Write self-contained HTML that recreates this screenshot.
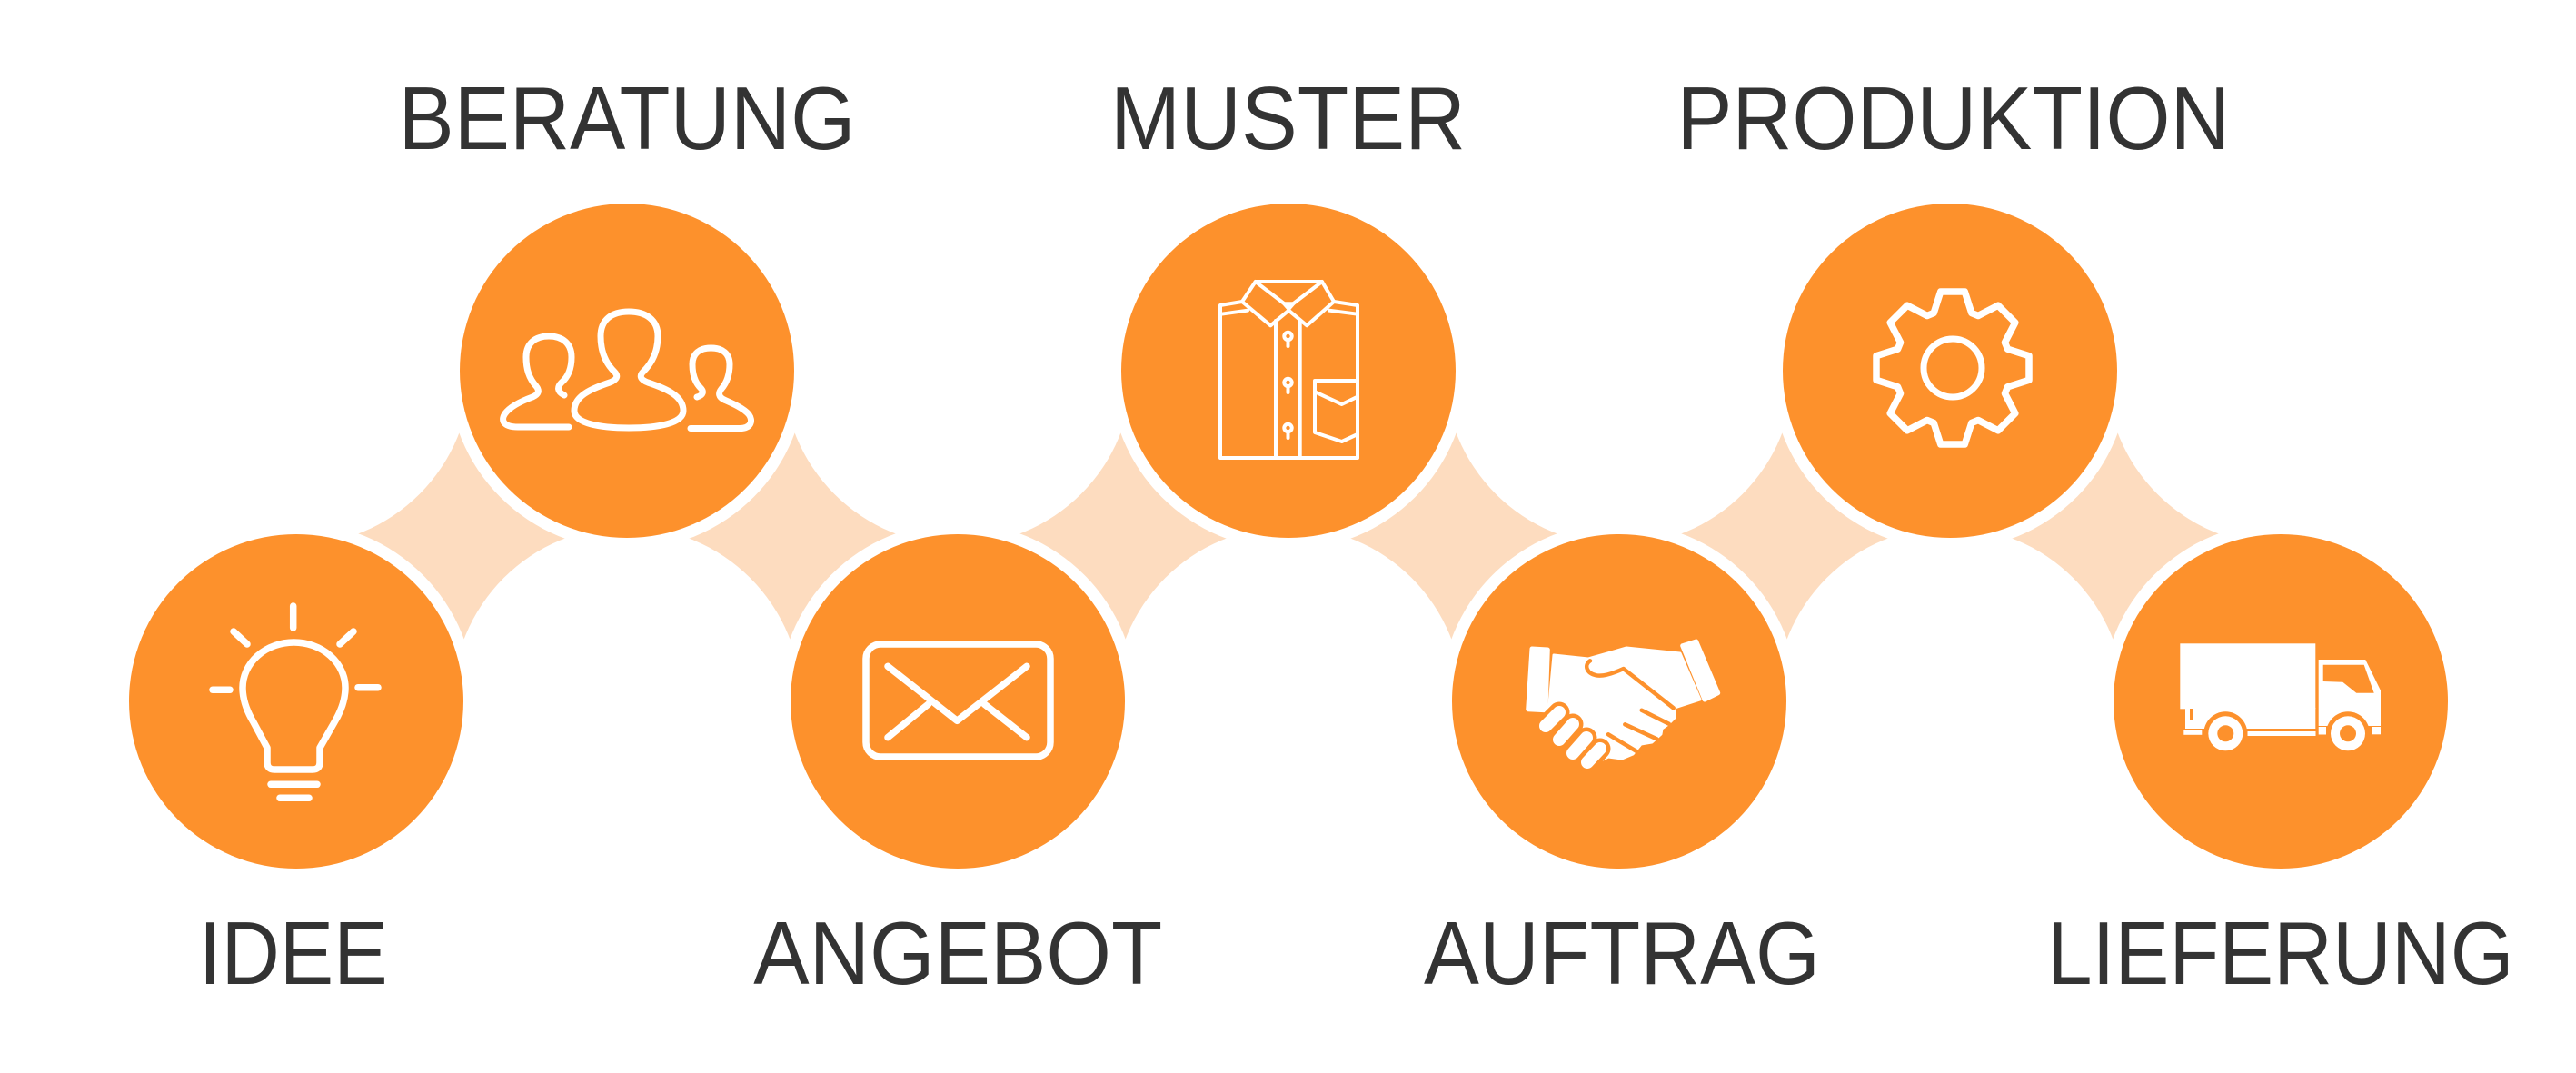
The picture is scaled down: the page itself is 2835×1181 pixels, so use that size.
<!DOCTYPE html>
<html>
<head>
<meta charset="utf-8">
<style>
html,body{margin:0;padding:0;background:#fff;}
svg{display:block;}
text{font-family:"Liberation Sans",Arial,sans-serif;fill:#333;font-size:98px;}
</style>
</head>
<body>
<svg width="2835" height="1181" viewBox="0 0 2835 1181" xmlns="http://www.w3.org/2000/svg">
  <rect x="0" y="0" width="2835" height="1181" fill="#fff"/>
  <!-- peach connector band -->
  <rect x="326" y="408" width="2184" height="364" fill="#FDDCBF"/>
  <!-- imaginary carving discs -->
  <g fill="#fff">
    <circle cx="326" cy="408" r="192"/>
    <circle cx="1054" cy="408" r="192"/>
    <circle cx="1782" cy="408" r="192"/>
    <circle cx="2510" cy="408" r="192"/>
    <circle cx="690" cy="772" r="192"/>
    <circle cx="1418" cy="772" r="192"/>
    <circle cx="2146" cy="772" r="192"/>
  </g>
  <!-- white rings -->
  <g fill="#fff">
    <circle cx="326" cy="772" r="197"/>
    <circle cx="690" cy="408" r="197"/>
    <circle cx="1054" cy="772" r="197"/>
    <circle cx="1418" cy="408" r="197"/>
    <circle cx="1782" cy="772" r="197"/>
    <circle cx="2146" cy="408" r="197"/>
    <circle cx="2510" cy="772" r="197"/>
  </g>
  <!-- orange circles -->
  <g fill="#FD912C">
    <circle cx="326" cy="772" r="184"/>
    <circle cx="690" cy="408" r="184"/>
    <circle cx="1054" cy="772" r="184"/>
    <circle cx="1418" cy="408" r="184"/>
    <circle cx="1782" cy="772" r="184"/>
    <circle cx="2146" cy="408" r="184"/>
    <circle cx="2510" cy="772" r="184"/>
  </g>

  <!-- Bulb -->
  <g fill="none" stroke="#fff" stroke-width="7.5" stroke-linecap="round" stroke-linejoin="round">
    <line x1="322.7" y1="667" x2="322.7" y2="691"/>
    <line x1="257" y1="695" x2="272" y2="709"/>
    <line x1="389" y1="695" x2="374" y2="709"/>
    <line x1="234" y1="759.3" x2="253" y2="759.3"/>
    <line x1="394" y1="756.7" x2="416" y2="756.7"/>
    <path d="M 294 823 L 279 795 Q 267 775 267 757 A 56.5 50 0 0 1 380 757 Q 380 775 368 795 L 352 823 L 352 839 Q 352 847 344 847 L 302 847 Q 294 847 294 839 Z"/>
    <line x1="298" y1="863.3" x2="349" y2="863.3"/>
    <line x1="308" y1="878.3" x2="340" y2="878.3"/>
  </g>

  <!-- People -->
  <g fill="none" stroke="#fff" stroke-width="7" stroke-linecap="round" stroke-linejoin="round">
    <path d="M 626 470 L 570 470 C 553 470 551 462 556 455 C 562 447 575 441 586 437 C 593 434 594 430 590 425 C 582 416 579 406 579 393 C 579 378 589 370 604 370 C 619 370 629 378 629 393 C 629 406 625 415 618 421 C 613 426 613 431 621 435"/>
    <path d="M 692 343 C 673 343 661 352 661 370 C 661 388 667 400 676 409 C 681 414 679 418 671 421 C 650 428 632 436 632 452 C 632 466 660 471 692 471 C 724 471 752 466 752 452 C 752 436 734 428 713 421 C 705 418 703 414 708 409 C 717 400 724 388 724 370 C 724 352 711 343 692 343 Z"/>
    <path d="M 760 471.5 L 814 471.5 C 827 471.5 829 463 824 456 C 818 449 806 444 797 440 C 791 437 790 433 794 428 C 800 421 803 412 803 401 C 803 389 795 383 782.5 383 C 770 383 762 389 762 401 C 762 412 765 421 771 427 C 775 431 774 435 767 437"/>
  </g>

  <!-- Envelope -->
  <g fill="none" stroke="#fff" stroke-width="7.5" stroke-linecap="round" stroke-linejoin="round">
    <rect x="953" y="709" width="203" height="124" rx="16"/>
    <polyline points="977,733.3 1053.3,793.3 1130,733.3"/>
    <line x1="977" y1="811.7" x2="1021.7" y2="775"/>
    <line x1="1130" y1="811.7" x2="1083.3" y2="775"/>
  </g>

  <!-- Shirt -->
  <g fill="none" stroke="#fff" stroke-width="4" stroke-linecap="round" stroke-linejoin="round">
    <path d="M 1367 332 L 1343 336 L 1343 504 L 1494 504 L 1494 336 L 1468 332"/>
    <line x1="1344" y1="345.7" x2="1373" y2="341.7"/>
    <line x1="1494" y1="345.7" x2="1463" y2="341.7"/>
    <path d="M 1381.7 310 L 1455 310 L 1468 332 L 1438.3 358.3 L 1418.3 341.7 L 1398.3 358.3 L 1367 332 Z"/>
    <polyline points="1381.7,310 1418.3,338 1455,310"/>
    <polygon points="1413.3,334.3 1423.3,334.3 1418.3,340"/>
    <line x1="1404" y1="353" x2="1404" y2="504"/>
    <line x1="1430.7" y1="353" x2="1430.7" y2="504"/>
    <circle cx="1417.5" cy="370" r="4.2"/>
    <circle cx="1417.5" cy="421" r="4.2"/>
    <circle cx="1417.5" cy="471" r="4.2"/>
    <line x1="1417.5" y1="374" x2="1417.5" y2="381"/>
    <line x1="1417.5" y1="425" x2="1417.5" y2="432"/>
    <line x1="1417.5" y1="475" x2="1417.5" y2="482"/>
    <path d="M 1494 419 L 1447 419 L 1447 476 L 1476.7 486 L 1494 478"/>
    <polyline points="1448,431.7 1476.7,445 1494,436.7"/>
  </g>

  <!-- Handshake -->
  <g>
    <path d="M 1686 714 L 1703.3 715 L 1701 781.7 L 1681.7 780.7 Z" fill="#fff" stroke="#fff" stroke-width="5" stroke-linejoin="round"/>
    <path d="M 1851.7 710.7 L 1866.7 706 L 1890.7 762.7 L 1876 770 Z" fill="#fff" stroke="#fff" stroke-width="5" stroke-linejoin="round"/>
    <polygon points="1710,721 1748,725 1790,713 1849,719 1871,770 1843,779 1843,790 1836,797 1829,802 1828,808 1818,817 1806,819 1797,830 1785,835 1770,833 1760,838 1745,835 1725,815 1710,800 1703,790 1705,775" fill="#fff" stroke="#fff" stroke-width="3" stroke-linejoin="round"/>
    <path d="M 1750 727.3 C 1743 732 1746 741 1756.7 743.3 C 1765 745 1778 740 1786.7 736 L 1841.7 779.3" fill="none" stroke="#FD912C" stroke-width="4.5" stroke-linecap="round" stroke-linejoin="round"/>
    <g stroke="#FD912C" stroke-width="4.5" stroke-linecap="round">
      <line x1="1806.7" y1="781.7" x2="1836.7" y2="796.7"/>
      <line x1="1788.3" y1="797.3" x2="1823.3" y2="813.3"/>
      <line x1="1770" y1="808.3" x2="1803.3" y2="828.3"/>
    </g>
    <g stroke="#FD912C" stroke-width="23" stroke-linecap="round">
      <line x1="1701" y1="799" x2="1716" y2="784"/>
      <line x1="1716" y1="814" x2="1731" y2="797"/>
      <line x1="1731" y1="829" x2="1746" y2="812"/>
      <line x1="1747" y1="839" x2="1761" y2="824"/>
    </g>
    <g stroke="#fff" stroke-width="14" stroke-linecap="round">
      <line x1="1701" y1="799" x2="1716" y2="784"/>
      <line x1="1716" y1="814" x2="1731" y2="797"/>
      <line x1="1731" y1="829" x2="1746" y2="812"/>
      <line x1="1747" y1="839" x2="1761" y2="824"/>
    </g>
  </g>

  <!-- Gear -->
  <g fill="none" stroke="#fff" stroke-width="7.5" stroke-linejoin="round">
    <polygon points="2209.5,384.2 2233,391.7 2233,418.3 2209.5,425.8 2206.5,433.1 2217.8,455 2199,473.8 2177.1,462.5 2169.8,465.5 2162.3,489 2135.7,489 2128.2,465.5 2120.9,462.5 2099,473.8 2080.2,455 2091.5,433.1 2088.5,425.8 2065,418.3 2065,391.7 2088.5,384.2 2091.5,376.9 2080.2,355 2099,336.2 2120.9,347.5 2128.2,344.5 2135.7,321 2162.3,321 2169.8,344.5 2177.1,347.5 2199,336.2 2217.8,355 2206.5,376.9"/>
    <circle cx="2149" cy="405" r="32" stroke-width="7"/>
  </g>

  <!-- Truck -->
  <g>
    <rect x="2399.3" y="708.3" width="149" height="72" fill="#fff"/>
    <rect x="2405" y="779" width="143.3" height="23" fill="#fff"/>
    <rect x="2410" y="780" width="3.5" height="12" fill="#FD912C"/>
    <path d="M 2551.7 726 L 2603.3 726 L 2620 760 L 2620 799 L 2551.7 799 Z" fill="#fff"/>
    <polygon points="2556.7,731.7 2601.7,731.7 2612.7,762.7 2593.3,762.7 2578.3,750.7 2556.7,750" fill="#FD912C"/>
    <circle cx="2449.3" cy="807.3" r="24" fill="#FD912C"/>
    <circle cx="2584" cy="807.3" r="24" fill="#FD912C"/>
    <rect x="2403.3" y="803.3" width="20" height="5.5" fill="#fff"/>
    <rect x="2473.5" y="805" width="75" height="5" fill="#fff"/>
    <rect x="2551.7" y="800" width="8.3" height="8.5" fill="#fff"/>
    <rect x="2610" y="800" width="10" height="8.3" fill="#fff"/>
    <circle cx="2449.3" cy="807.3" r="19" fill="#fff"/>
    <circle cx="2584" cy="807.3" r="19" fill="#fff"/>
    <circle cx="2449.3" cy="807.3" r="9" fill="#FD912C"/>
    <circle cx="2584" cy="807.3" r="9" fill="#FD912C"/>
  </g>

  <!-- Labels -->
  <text x="690" y="164" text-anchor="middle" textLength="503" lengthAdjust="spacingAndGlyphs">BERATUNG</text>
  <text x="1417.5" y="164" text-anchor="middle" textLength="391" lengthAdjust="spacingAndGlyphs">MUSTER</text>
  <text x="2150" y="164" text-anchor="middle" textLength="609" lengthAdjust="spacingAndGlyphs">PRODUKTION</text>
  <text x="322.7" y="1083" text-anchor="middle" textLength="208" lengthAdjust="spacingAndGlyphs">IDEE</text>
  <text x="1054.2" y="1083" text-anchor="middle" textLength="450" lengthAdjust="spacingAndGlyphs">ANGEBOT</text>
  <text x="1785" y="1083" text-anchor="middle" textLength="436" lengthAdjust="spacingAndGlyphs">AUFTRAG</text>
  <text x="2509.6" y="1083" text-anchor="middle" textLength="514" lengthAdjust="spacingAndGlyphs">LIEFERUNG</text>
</svg>
</body>
</html>
